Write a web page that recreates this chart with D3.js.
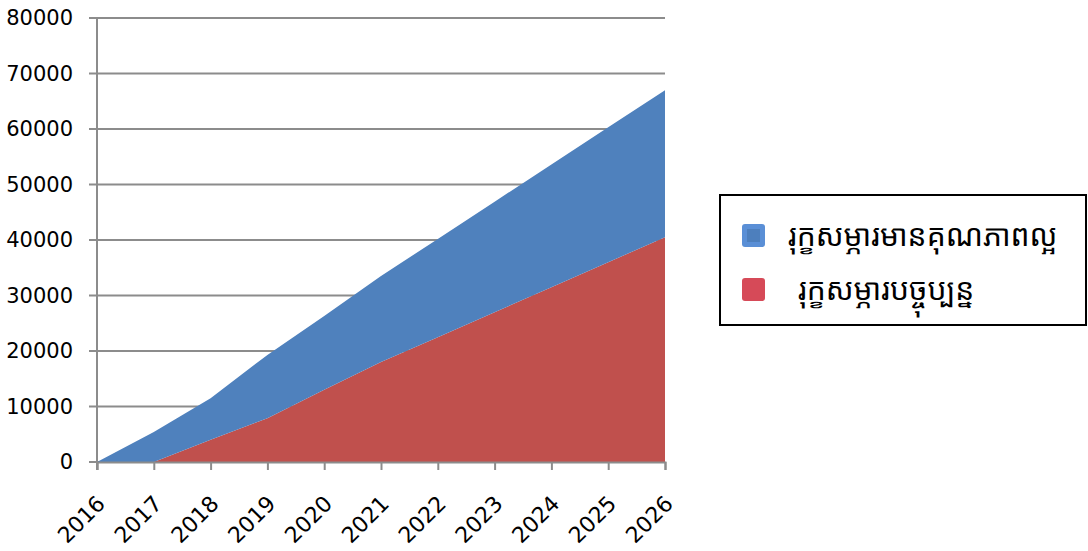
<!DOCTYPE html>
<html lang="km">
<head>
<meta charset="UTF-8">
<title>Stacked area</title>
<script src="https://d3js.org/d3.v7.min.js"></script>
<style>
    body { margin: 0; background: #fff; }
    svg { display: block; }
    .tick text { font-family: "DejaVu Sans", sans-serif; font-size: 21px; fill: #000; }
    .x-axis .tick text { font-size: 22px; }
    .legend text { font-family: "Noto Sans Khmer", "Khmer OS", "Noto Sans", sans-serif; font-size: 30px; fill: #000; }
</style>
</head>
<body>
<svg width="1088" height="551"></svg>
<script>
const years = [2016, 2017, 2018, 2019, 2020, 2021, 2022, 2023, 2024, 2025, 2026];
const current = [0, 0, 4000, 7900, 13000, 18000, 22500, 27000, 31500, 36000, 40500];
const quality = [0, 5400, 7500, 11400, 13300, 15500, 17700, 19900, 22100, 24300, 26500];
const yTicks = [0, 10000, 20000, 30000, 40000, 50000, 60000, 70000, 80000];
const seriesNames = ["រុក្ខសម្ភារមានគុណភាពល្អ", "រុក្ខសម្ភារបច្ចុប្បន្ន"];

const svg = d3.select("svg");
const margin = { left: 97, right: 423, top: 18, bottom: 89 };
const width = 1088, height = 551;

const x = d3.scaleLinear().domain([2016, 2026]).range([margin.left, width - margin.right]);
const y = d3.scaleLinear().domain([0, 80000]).range([height - margin.bottom, margin.top]);

const rows = years.map((yr, i) => ({ year: yr, current: current[i], quality: quality[i] }));
const stack = d3.stack().keys(["current", "quality"])(rows);

// gridlines
svg.append("g")
    .selectAll("line")
    .data(yTicks)
    .join("line")
    .attr("x1", margin.left - 8)
    .attr("x2", x(2026))
    .attr("y1", d => y(d))
    .attr("y2", d => y(d))
    .attr("stroke", "#8c8c8c")
    .attr("stroke-width", 2);

const area = d3.area()
    .x(d => x(d.data.year))
    .y0(d => y(d[0]))
    .y1(d => y(d[1]));

const colors = { current: "#c0504d", quality: "#4f81bd" };
svg.append("g")
    .selectAll("path")
    .data(stack)
    .join("path")
    .attr("fill", d => colors[d.key])
    .attr("d", area);

// y axis
const yAxis = svg.append("g")
    .attr("transform", `translate(${margin.left},0)`)
    .call(d3.axisLeft(y).tickValues(yTicks).tickSize(0).tickPadding(24).tickFormat(d3.format("d")));
yAxis.select(".domain").remove();
svg.append("line")
    .attr("x1", margin.left).attr("x2", margin.left)
    .attr("y1", margin.top).attr("y2", y(0) + 8)
    .attr("stroke", "#8c8c8c").attr("stroke-width", 2);

// x axis
const xAxis = svg.append("g")
    .attr("class", "x-axis")
    .attr("transform", `translate(0,${y(0)})`)
    .call(d3.axisBottom(x).tickValues(years).tickSize(8).tickFormat(d3.format("d")));
xAxis.select(".domain").attr("stroke", "#8c8c8c").attr("stroke-width", 2);
xAxis.selectAll(".tick line").attr("stroke", "#8c8c8c").attr("stroke-width", 2);
xAxis.selectAll(".tick text")
    .attr("text-anchor", "end")
    .attr("dy", null)
    .attr("y", 0)
    .attr("transform", "translate(9,43) rotate(-45)");

// legend
const legend = svg.append("g").attr("class", "legend");
legend.append("rect")
    .attr("x", 720).attr("y", 195).attr("width", 366).attr("height", 130)
    .attr("fill", "#fff").attr("stroke", "#000").attr("stroke-width", 2);
const markerColors = ["#5a8fd6", "#d64a58"];
const markerInner = ["#4d7fbd", "#d64a58"];
seriesNames.forEach((name, i) => {
    const cy = 236 + i * 54;
    legend.append("rect")
        .attr("x", 742).attr("y", cy - 12).attr("width", 23).attr("height", 23).attr("rx", 3)
        .attr("fill", markerColors[i]);
    legend.append("rect")
        .attr("x", 747).attr("y", cy - 7).attr("width", 13).attr("height", 13)
        .attr("fill", markerInner[i]);
    legend.append("text")
        .attr("x", i === 0 ? 788 : 798).attr("y", cy + 10)
        .text(name);
});
</script>
</body>
</html>
